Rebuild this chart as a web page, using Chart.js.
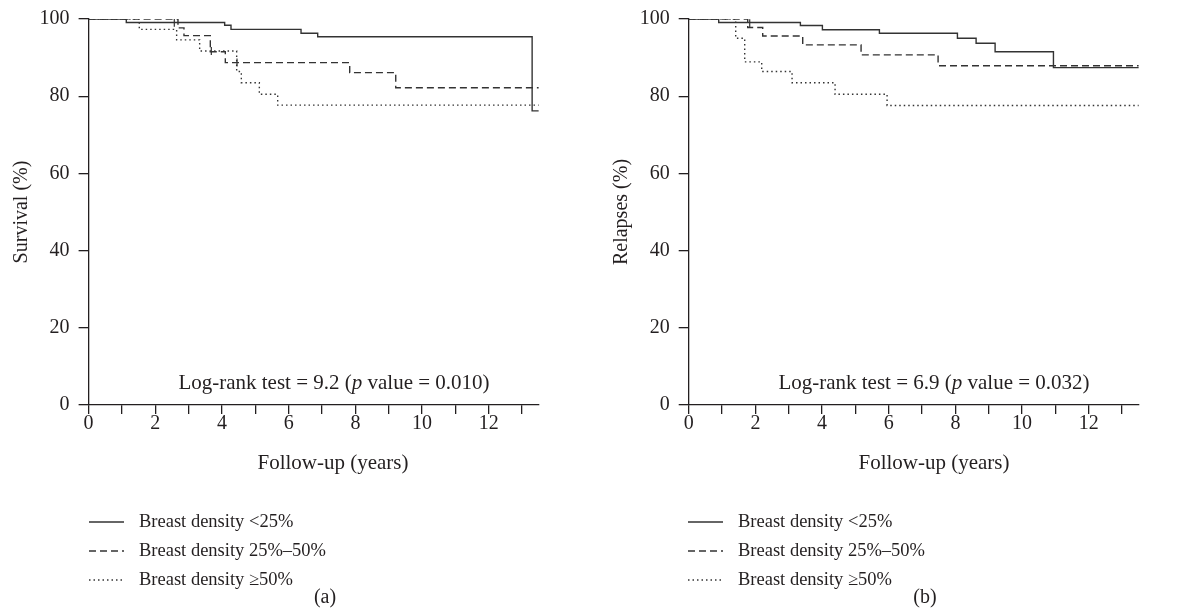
<!DOCTYPE html>
<html>
<head>
<meta charset="utf-8">
<script src="https://cdn.jsdelivr.net/npm/chart.js@4.4.1/dist/chart.umd.min.js"></script>
<style>
body{margin:0;background:#fff;width:1178px;height:610px;overflow:hidden;position:relative;font-family:"Liberation Serif",serif;color:#231f20}
.plot{position:absolute;top:0}
#grafA{left:0}
#grafB{left:600px}
.centro{position:absolute;white-space:nowrap;transform:translateX(-50%);font-size:21px;line-height:24px}
.logrank{top:370px}
.xtit{top:450px}
.legenda{position:absolute;top:507px;font-size:18.5px;line-height:29px}
.legenda div{display:flex;align-items:center;white-space:nowrap}
.legenda canvas{margin-right:15px}
.cap{position:absolute;top:585px;font-size:20px;transform:translateX(-50%)}
</style>
</head>
<body>
<canvas id="grafA" class="plot" width="544" height="480"></canvas>
<canvas id="grafB" class="plot" width="544" height="480"></canvas>
<div class="centro logrank" style="left:334px">Log-rank test = 9.2 (<i>p</i> value = 0.010)</div>
<div class="centro logrank" style="left:934px">Log-rank test = 6.9 (<i>p</i> value = 0.032)</div>
<div class="centro xtit" style="left:333px">Follow-up (years)</div>
<div class="centro xtit" style="left:934px">Follow-up (years)</div>
<div class="legenda" id="legA" style="left:89px"></div>
<div class="legenda" id="legB" style="left:688px"></div>
<div class="cap" style="left:325px">(a)</div>
<div class="cap" style="left:925px">(b)</div>
<script>
(function(){

const grupos = ['Breast density <25%', 'Breast density 25%\u201350%', 'Breast density \u226550%'];

// (a) survival, Kaplan-Meier steps: time of event -> value after it
const survT1 = [0, 1.13, 4.08, 4.27, 6.37, 6.87, 13.3, 13.5];
const survY1 = [100, 99.1, 98.4, 97.3, 96.3, 95.4, 76.2, 76.2];
const survT2 = [0, 2.68, 2.86, 3.65, 4.1, 7.83, 9.21, 13.5];
const survY2 = [100, 97.7, 95.7, 91.5, 88.7, 86.1, 82.2, 82.2];
const survT3 = [0, 1.52, 2.64, 3.33, 4.44, 4.58, 5.12, 5.67, 13.5];
const survY3 = [100, 97.3, 94.6, 91.7, 86.4, 83.5, 80.5, 77.7, 77.7];
const survCensT = [2.57, 3.68, 4.45];
const survCensY = [99, 91.7, 88.7];

// (b) relapses
const relT1 = [0, 0.9, 3.35, 4.01, 5.72, 8.06, 8.62, 9.19, 10.94, 13.5];
const relY1 = [100, 99.1, 98.3, 97.2, 96.3, 95.0, 93.7, 91.5, 87.4, 87.4];
const relT2 = [0, 1.77, 2.22, 3.42, 5.17, 7.48, 13.5];
const relY2 = [100, 97.8, 95.6, 93.3, 90.7, 87.9, 87.9];
const relT3 = [0, 1.41, 1.68, 2.19, 3.1, 4.39, 5.95, 13.5];
const relY3 = [100, 95.0, 88.9, 86.4, 83.5, 80.5, 77.6, 77.6];
const relCensT = [1.83];
const relCensY = [98.9];

const xTicks = [0, 2, 4, 6, 8, 10, 12];

const tinta = '#231f20';
const linha = '#333333';
const tracos = [[], [7, 4], [1.5, 3]];
const fonte = {family: '"Liberation Serif", serif', size: 20, lineHeight: 1};

function serie(ts, ys, i){
  return {
    label: grupos[i],
    data: ts.map((t, k) => ({x: t, y: ys[k]})),
    stepped: 'before',
    borderColor: linha,
    borderWidth: 1.4,
    borderDash: tracos[i],
    pointRadius: 0,
    fill: false
  };
}

function censura(ts, ys){
  return {
    label: 'censored',
    data: ts.map((t, k) => ({x: t, y: ys[k]})),
    showLine: false,
    pointStyle: 'line',
    rotation: 90,
    pointRadius: 4,
    borderColor: linha,
    borderWidth: 1.2
  };
}

function opcoes(tituloY, larguraY){
  return {
    responsive: false,
    animation: false,
    layout: {padding: {top: 19, left: 0, right: 0, bottom: 0}},
    plugins: {legend: {display: false}, tooltip: {enabled: false}},
    scales: {
      x: {
        type: 'linear', min: 0, max: 13.5,
        border: {color: tinta, width: 1.3},
        grid: {drawOnChartArea: false, color: tinta, lineWidth: 1.3, tickLength: 9},
        ticks: {
          stepSize: 1, includeBounds: false, autoSkip: false, maxRotation: 0,
          padding: 0, color: tinta, font: fonte,
          callback: v => xTicks.includes(v) ? String(v) : ''
        },
        afterFit: s => { s.height = 75; }
      },
      y: {
        min: 0, max: 100,
        border: {color: tinta, width: 1.3},
        grid: {drawOnChartArea: false, color: tinta, lineWidth: 1.3, tickLength: 10},
        ticks: {stepSize: 20, padding: 9, color: tinta, font: fonte},
        title: {display: true, text: tituloY, color: tinta, font: {family: fonte.family, size: 20}, padding: {top: 10, bottom: 0}},
        afterFit: s => { s.width = larguraY; }
      }
    }
  };
}

new Chart(document.getElementById('grafA'), {
  type: 'line',
  data: {datasets: [
    serie(survT1, survY1, 0),
    serie(survT2, survY2, 1),
    serie(survT3, survY3, 2),
    censura(survCensT, survCensY)
  ]},
  options: opcoes('Survival (%)', 88.6)
});

new Chart(document.getElementById('grafB'), {
  type: 'line',
  data: {datasets: [
    serie(relT1, relY1, 0),
    serie(relT2, relY2, 1),
    serie(relT3, relY3, 2),
    censura(relCensT, relCensY)
  ]},
  options: opcoes('Relapses (%)', 88.7)
});

// html legend, same for both panels
function legenda(id){
  const el = document.getElementById(id);
  grupos.forEach((g, i) => {
    const row = document.createElement('div');
    const c = document.createElement('canvas');
    c.width = 35; c.height = 4;
    const ctx = c.getContext('2d');
    ctx.strokeStyle = linha;
    ctx.lineWidth = 1.4;
    ctx.setLineDash(tracos[i]);
    ctx.beginPath();
    ctx.moveTo(0, 2); ctx.lineTo(35, 2);
    ctx.stroke();
    row.appendChild(c);
    const t = document.createElement('span');
    t.textContent = g;
    row.appendChild(t);
    el.appendChild(row);
  });
}
legenda('legA');
legenda('legB');

})();
</script>
</body>
</html>
